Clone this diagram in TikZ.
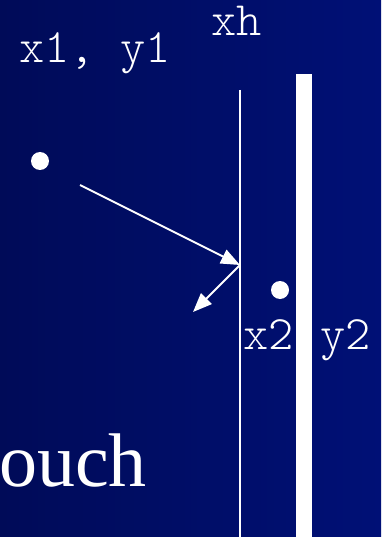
\documentclass[tikz,border=0pt]{standalone}
\usepackage{fontspec}
\setmainfont{Liberation Serif}
\newfontfamily\cour{Latin Modern Mono Light}
\usetikzlibrary{arrows.meta}
\begin{document}
\begin{tikzpicture}[x=1pt,y=-1pt,
  lbl/.style={text=white,font=\fontsize{48}{48}\selectfont\cour,inner sep=0pt,anchor=base west},
  dot/.style={circle,fill=white,draw=none,minimum size=18pt,inner sep=0pt},
  mv/.style={draw=white,line width=2pt,-{Triangle[length=19pt,width=15pt]}}]
\shade[left color={rgb,255:red,0;green,11;blue,88},right color={rgb,255:red,0;green,16;blue,118}] (0,0) rectangle (381,537);
\useasboundingbox (0,0) rectangle (381,537);
% wall lines
\draw[white,line width=2pt] (240,90) -- (240,537);
\fill[white] (296,74) rectangle (312,537);
% dots
\node[dot] (p1) at (40,161) {};
\node[dot] (p2) at (280,290) {};
% arrows
\coordinate (s) at (80,185);
\coordinate (h) at (240,265);
\coordinate (e) at (193,312);
\draw[mv] (s) -- (h);
\draw[mv] (h) -- (e);
% labels
\node[lbl] (t1) at (19,63) {x1, y1};
\node[lbl] (th) at (211,36) {xh};
\node[lbl] (t2) at (243,349) {x2};
\node[lbl] (t3) at (320,349) {y2};
\node[text=white,font=\fontsize{76}{76}\selectfont,inner sep=0pt,anchor=base west] (ouch) at (-1,486) {ouch};
\end{tikzpicture}
\end{document}
